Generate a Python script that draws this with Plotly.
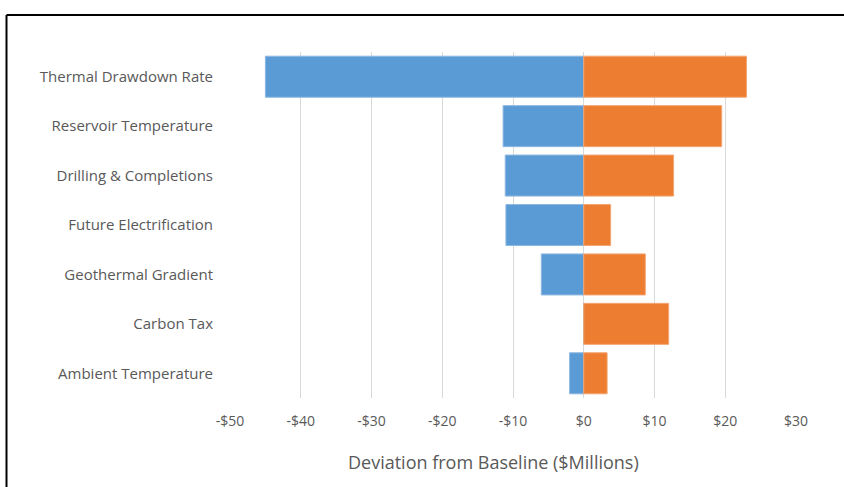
import plotly.graph_objects as go

categories = ["Thermal Drawdown Rate", "Reservoir Temperature", "Drilling & Completions",
              "Future Electrification", "Geothermal Gradient", "Carbon Tax", "Ambient Temperature"]
low_values = [-45.0, -11.4, -11.1, -11.0, -6.0, 0.0, -2.0]
high_values = [23.0, 19.5, 12.7, 3.8, 8.7, 12.0, 3.3]
tick_values = [-50, -40, -30, -20, -10, 0, 10, 20, 30]
tick_labels = ["-$50", "-$40", "-$30", "-$20", "-$10", "$0", "$10", "$20", "$30"]
x_title = "Deviation from Baseline ($Millions)"

W, H = 844, 487
ml, mr, mt, mb = 230, 48, 52, 89
pw, ph = W - ml - mr, H - mt - mb

fig = go.Figure()
fig.add_trace(go.Bar(y=categories, x=low_values, orientation="h", name="Low",
                     marker=dict(color="#5B9BD5", line=dict(color="#8DB8E2", width=1))))
fig.add_trace(go.Bar(y=categories, x=high_values, orientation="h", name="High",
                     marker=dict(color="#ED7D31", line=dict(color="#F3A673", width=1))))

font_family = "Open Sans, Noto Sans, sans-serif"
fig.update_layout(
    width=W, height=H,
    margin=dict(l=ml, r=mr, t=mt, b=mb, pad=0),
    barmode="relative", bargap=0.17,
    showlegend=False,
    plot_bgcolor="white", paper_bgcolor="white",
    font=dict(family=font_family, color="#595959", size=14),
    xaxis=dict(range=[-50, 30], tickvals=tick_values, ticktext=tick_labels,
               showgrid=True, gridcolor="#D9D9D9", gridwidth=1.3,
               zeroline=True, zerolinecolor="#D9D9D9", zerolinewidth=1.3,
               showline=False, ticks="", ticklabelstandoff=13,
               tickfont=dict(size=14, color="#595959")),
    yaxis=dict(autorange="reversed", showgrid=False, zeroline=False, showline=False,
               ticks="", ticklabelstandoff=16, tickfont=dict(size=15, color="#595959")),
)

fig.add_annotation(text=x_title, xref="paper", yref="paper",
                   x=(493.5 - ml) / pw, y=-(462 - (H - mb)) / ph,
                   xanchor="center", yanchor="middle", showarrow=False,
                   font=dict(size=18, color="#595959"))

# chart-area border (top and left edges visible)
x_left = (6.5 - ml) / pw
y_top = (H - mb - 15) / ph
fig.add_shape(type="line", xref="paper", yref="paper", x0=x_left, x1=(W + 10 - ml) / pw,
              y0=y_top, y1=y_top, line=dict(color="black", width=2))
fig.add_shape(type="line", xref="paper", yref="paper", x0=x_left, x1=x_left,
              y0=y_top, y1=-(mb + 10) / ph, line=dict(color="black", width=2))

fig.write_html("out.html")
